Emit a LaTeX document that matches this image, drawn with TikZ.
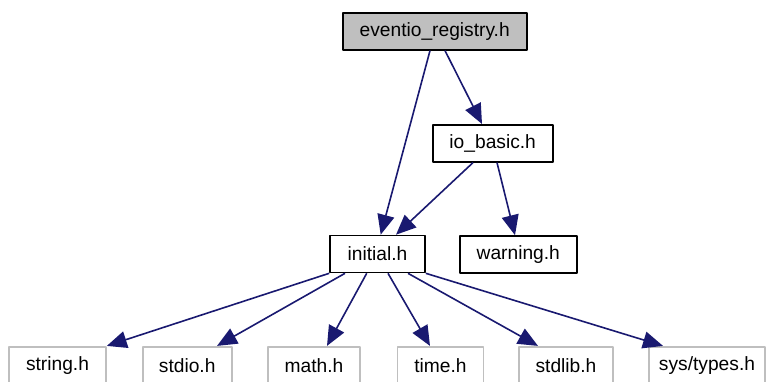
\documentclass[tikz,border=0pt]{standalone}
\usepackage{fontspec}
\setmainfont{Liberation Sans}
\usetikzlibrary{arrows.meta,calc}
\definecolor{edgeblue}{HTML}{191970}
\definecolor{extgray}{HTML}{BFBFBF}
\begin{document}
\begin{tikzpicture}[x=0.5pt, y=-0.5pt, font=\fontsize{9.6}{11.5}\selectfont, line join=round,
 file/.style={draw=black, line width=0.8pt, inner sep=0pt, minimum height=18.5pt},
 ext/.style={draw=extgray, line width=0.8pt, inner sep=0pt, minimum height=18.5pt},
 edge/.style={draw=edgeblue, line width=0.8pt, -{Triangle[length=10pt,width=8.5pt]}}]
 \useasboundingbox (0,0) rectangle (769,381);
 \node[file, fill=extgray, minimum width=92pt] (reg) at (434.7,31.3) {eventio\_registry.h};
 \node[file, minimum width=60pt] (iobasic) at (492.7,143.3) {io\_basic.h};
 \node[file, minimum width=47.5pt] (initial) at (377.5,254) {initial.h};
 \node[file, minimum width=58.5pt] (warning) at (518.3,254.5) {warning.h};
 \foreach\n/\t/\x/\w in {string/string.h/57.5/48.5pt, stdio/stdio.h/187.2/44.5pt,
   math/math.h/314/46pt, time/time.h/440.5/43pt, stdlib/stdlib.h/566/47pt,
   sys/sys\slash types.h/707/58pt}
  {\node[ext, minimum width=\w] (\n) at (\x,365.2) {\t};}
 \draw[edge] ($(reg.south)+(-4.7,0)$) -- ($(initial.north)+(3.2,0)$);
 \draw[edge] ($(reg.south)+(10.3,0)$) -- ($(iobasic.north)+(-10.7,0)$);
 \draw[edge] ($(iobasic.south)+(-19.7,0)$) -- ($(initial.north)+(18.5,0)$);
 \draw[edge] ($(iobasic.south)+(4.3,0)$) -- ($(warning.north)+(-3.3,0)$);
 \draw[edge] (initial.south west) -- (string.north east);
 \foreach\n/\a/\b in {stdio/-32.5/29.8, math/-10.8/13, time/10.5/-10.5, stdlib/30.5/-28}
  {\draw[edge] ($(initial.south)+(\a,0)$) -- ($(\n.north)+(\b,0)$);}
 \draw[edge] (initial.south east) -- ($(sys.north)+(-44,0)$);
\end{tikzpicture}
\end{document}
